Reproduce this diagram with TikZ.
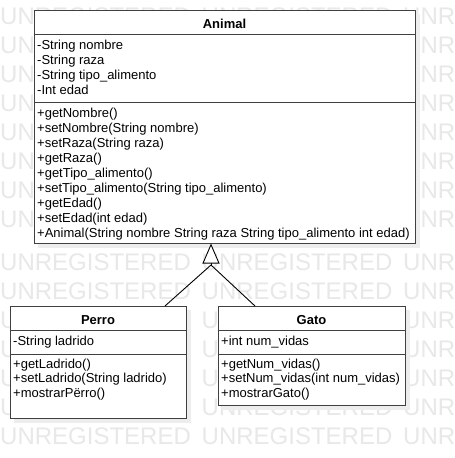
\documentclass[tikz,border=0pt]{standalone}
\usepackage{fontspec}
\setmainfont{Liberation Sans}
\usetikzlibrary{arrows.meta}
\begin{document}
\begin{tikzpicture}[x=1pt,y=-1pt,
  box/.style={draw=black!75, line width=1pt, fill=white, anchor=north west, inner sep=0pt, outer sep=0pt},
  umltitle/.style={font=\fontsize{13}{15}\selectfont\bfseries, anchor=base, inner sep=0pt},
  member/.style={font=\fontsize{13}{15}\selectfont, anchor=base west, inner sep=0pt},
  sepline/.style={draw=black!75, line width=1pt},
  conn/.style={draw=black, line width=0.9pt},
  shade/.style={fill=black!7},
  wm/.style={font=\fontsize{24}{24}\selectfont, text=black!9, anchor=west, inner sep=0pt}]

\useasboundingbox (0,0) rectangle (455,458);
\fill[white] (0,0) rectangle (455,458);

% watermark
\foreach \r in {16,45,74,103,132,161,190,219,262,291,320,349,378,407,436}{
  \foreach \c in {0,201.5,403}{
    \node[wm] (wm-\r-\c) at (\c,\r) {UNREGISTERED};
  }
}

% shadows
\fill[shade] (38,14) rectangle (420,248);
\fill[shade] (14,310) rectangle (191,423);
\fill[shade] (222,310) rectangle (410,410);

% Animal
\node[box, minimum width=381pt, minimum height=233pt] (animal) at (34,10) {};
\draw[sepline] (34,34) -- (415,34);
\draw[sepline] (34,102) -- (415,102);
\node[umltitle] (animalt) at (224.5,28) {Animal};
\node[member] (a1) at (37,49) {-String nombre};
\node[member] (a2) at (37,64) {-String raza};
\node[member] (a3) at (37,79) {-String tipo\_alimento};
\node[member] (a4) at (37,94) {-Int edad};
\node[member] (m1) at (37,117) {+getNombre()};
\node[member] (m2) at (37,132) {+setNombre(String nombre)};
\node[member] (m3) at (37,147) {+setRaza(String raza)};
\node[member] (m4) at (37,162) {+getRaza()};
\node[member] (m5) at (37,177) {+getTipo\_alimento()};
\node[member] (m6) at (37,192) {+setTipo\_alimento(String tipo\_alimento)};
\node[member] (m7) at (37,207) {+getEdad()};
\node[member] (m8) at (37,222) {+setEdad(int edad)};
\node[member] (m9) at (37,237) {+Animal(String nombre String raza String tipo\_alimento int edad)};

% Perro
\node[box, minimum width=176pt, minimum height=112pt] (perro) at (10,306) {};
\draw[sepline] (10,330) -- (186,330);
\draw[sepline] (10,354) -- (186,354);
\node[umltitle] (perrot) at (98,324) {Perro};
\node[member] (p1) at (13,345) {-String ladrido};
\node[member] (p2) at (13,368) {+getLadrido()};
\node[member] (p3) at (13,382.5) {+setLadrido(String ladrido)};
\node[member] (p4) at (13,397) {+mostrarPërro()};

% Gato
\node[box, minimum width=187pt, minimum height=99pt] (gato) at (218,306) {};
\draw[sepline] (218,330) -- (405,330);
\draw[sepline] (218,354) -- (405,354);
\node[umltitle] (gatot) at (311.5,324) {Gato};
\node[member] (g1) at (221,345) {+int num\_vidas};
\node[member] (g2) at (221,368) {+getNum\_vidas()};
\node[member] (g3) at (221,382.5) {+setNum\_vidas(int num\_vidas)};
\node[member] (g4) at (221,397) {+mostrarGato()};

% generalization
\coordinate (joint) at (211,265);
\coordinate (apex) at (211,243.5);
\coordinate (perroin) at (165,306);
\coordinate (gatoin) at (255,306);
\draw[conn] (perroin) -- (joint);
\draw[conn] (gatoin) -- (joint);
\draw[conn, -{Triangle[open, length=20pt, width=17pt, fill=white]}] (joint) -- (apex);
\end{tikzpicture}
\end{document}
